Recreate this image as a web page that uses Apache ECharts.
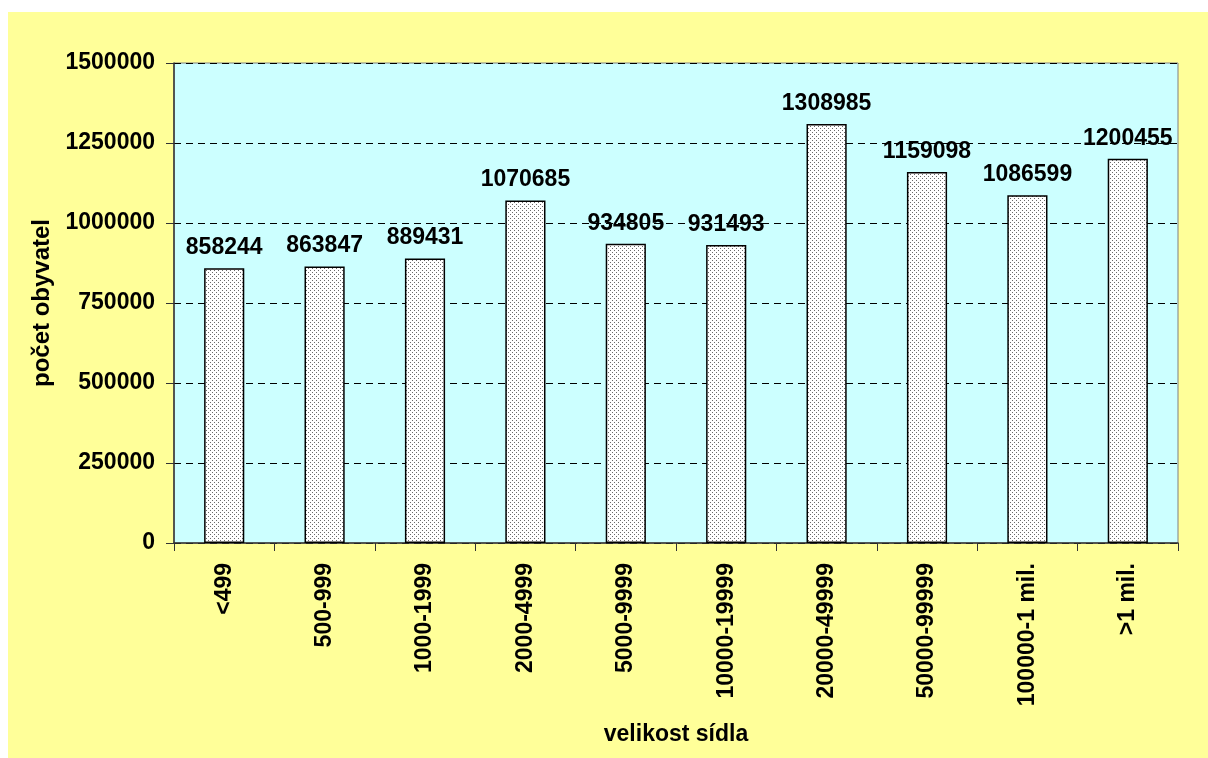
<!DOCTYPE html>
<html><head><meta charset="utf-8">
<script src="https://cdn.jsdelivr.net/npm/echarts@6/dist/echarts.min.js"></script>
<style>html,body{margin:0;padding:0;background:#fff;}#wrap{position:absolute;left:8px;top:12px;width:1200px;height:746px;background:#FFFF99;}#c{width:1200px;height:746px;}</style>
</head><body><div id="wrap"><div id="c"></div></div>
<script>
const categories = ['<499','500-999','1000-1999','2000-4999','5000-9999','10000-19999','20000-49999','50000-99999','100000-1 mil.','>1 mil.'];
const population = [858244, 863847, 889431, 1070685, 934805, 931493, 1308985, 1159098, 1086599, 1200455];
const yTicks = [0, 250000, 500000, 750000, 1000000, 1250000, 1500000];

const pc = document.createElement('canvas');
pc.width = 4; pc.height = 4;
const g = pc.getContext('2d');
g.fillStyle = '#ffffff'; g.fillRect(0,0,4,4);
g.fillStyle = '#6a6a6a';
g.fillRect(0,0,1,1); g.fillRect(2,2,1,1);

const FONT = 'Liberation Sans, Arial, sans-serif';
const chart = echarts.init(document.getElementById('c'), null, {renderer:'canvas'});
chart.setOption({
  backgroundColor: '#FFFF99',
  animation: false,
  grid: {left: 166, right: 30, top: 51, bottom: 215, show: true, backgroundColor: '#CCFFFF', borderColor: '#808080', borderWidth: 1},
  xAxis: {
    type: 'category', data: categories,
    name: 'velikost sídla', nameLocation: 'middle', nameGap: 180,
    nameTextStyle: {fontFamily: FONT, fontWeight: 'bold', fontSize: 23, color: '#000'},
    axisLine: {lineStyle: {color: '#333', width: 1.5}},
    axisTick: {show: true, length: 8, alignWithLabel: false, lineStyle: {color: '#333'}},
    axisLabel: {rotate: 90, margin: 20, fontFamily: FONT, fontWeight: 'bold', fontSize: 23, color: '#000', interval: 0},
    splitLine: {show: false}
  },
  yAxis: {
    type: 'value', min: yTicks[0], max: yTicks[yTicks.length-1], interval: 250000,
    name: 'počet obyvatel', nameLocation: 'middle', nameGap: 118, nameRotate: 90,
    nameTextStyle: {fontFamily: FONT, fontWeight: 'bold', fontSize: 24, color: '#000'},
    axisLine: {show: true, lineStyle: {color: '#333', width: 1.5}},
    axisTick: {show: true, length: 8, lineStyle: {color: '#333'}},
    axisLabel: {margin: 19, fontFamily: FONT, fontWeight: 'bold', fontSize: 23, color: '#000', formatter: v => String(v)},
    splitLine: {show: true, lineStyle: {color: '#000', type: [7, 5], width: 1}}
  },
  series: [{
    type: 'bar', data: population, barCategoryGap: '60%',
    itemStyle: {color: {image: pc, repeat: 'repeat'}, borderColor: '#000', borderWidth: 1.5},
    label: {show: true, position: 'top', distance: 9, fontFamily: FONT, fontWeight: 'bold', fontSize: 23, color: '#000'}
  }]
});
</script></body></html>
